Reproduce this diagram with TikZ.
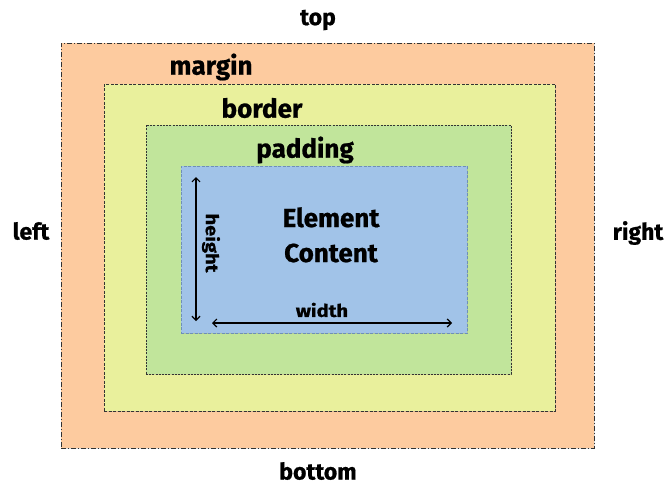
\documentclass[tikz,border=0pt]{standalone}
\usepackage{fontspec}
\setmainfont{Fira Sans}
\newfontfamily\heavy{Fira Sans}[BoldFeatures={FakeBold=0.8}]
\usetikzlibrary{arrows.meta,shadows}
\definecolor{marginc}{HTML}{FDCB9F}
\definecolor{borderc}{HTML}{E9F09C}
\definecolor{paddingc}{HTML}{C1E59B}
\definecolor{contentc}{HTML}{A1C3E8}
\definecolor{edgec}{HTML}{333333}
\definecolor{contentedge}{HTML}{6E8FB8}
\tikzset{
  box/.style={anchor=north west, inner sep=0pt, outer sep=0pt,
    drop shadow={opacity=0.25, shadow xshift=1.2pt, shadow yshift=-1.2pt}},
  outerlbl/.style={font=\heavy\bfseries\fontsize{23}{25}\selectfont, inner sep=0pt},
  innerlbl/.style={font=\heavy\bfseries\fontsize{26}{28}\selectfont, inner sep=0pt},
  elemlbl/.style={font=\heavy\bfseries\fontsize{26}{28}\selectfont, inner sep=0pt, anchor=base},
  small/.style={font=\heavy\bfseries\fontsize{17.5}{19}\selectfont, inner sep=0pt},
  dimarrow/.style={{Straight Barb[length=4pt,width=8pt]}-{Straight Barb[length=4pt,width=8pt]}, line width=1.2pt, black}
}
\begin{document}
\begin{tikzpicture}[x=1pt,y=-1pt]
\useasboundingbox (0,0) rectangle (669,490);
\node[box, fill=marginc, draw=edgec, line width=0.9pt, dash pattern=on 5pt off 2pt on 1pt off 2pt,
  minimum width=533pt, minimum height=405pt] (margin) at (61,43) {};
\node[box, fill=borderc, draw=edgec, line width=0.9pt, dash pattern=on 3pt off 1.5pt,
  minimum width=451pt, minimum height=327pt] (border) at (104,84) {};
\node[box, fill=paddingc, draw=edgec, line width=0.7pt, dash pattern=on 2pt off 1.2pt,
  minimum width=365pt, minimum height=249pt] (padding) at (146,125) {};
\node[box, fill=contentc, draw=contentedge, line width=0.8pt, dash pattern=on 3pt off 1.5pt,
  minimum width=286pt, minimum height=167pt] (content) at (181,166) {};

\node[outerlbl] (top) at (318,20) {top};
\node[outerlbl] (bottom) at (318,471) {bottom};
\node[outerlbl] (left) at (31,231) {left};
\node[outerlbl] (right) at (638,233) {right};
\node[innerlbl] (marginl) at (211,67) {margin};
\node[innerlbl] (borderl) at (262,108) {border};
\node[innerlbl] (paddingl) at (305,150) {padding};
\node[elemlbl] (elem1) at (331,227) {Element};
\node[elemlbl] (elem2) at (331,262) {Content};
\node[small, rotate=-90] (heightl) at (211,243) {\scalebox{1.15}[1]{height}};
\node[small] (widthl) at (322,310) {\scalebox{1.15}[1]{width}};

\coordinate (htop) at (196,177);
\coordinate (hbot) at (196,321);
\coordinate (wl) at (212,323);
\coordinate (wr) at (452,323);
\draw[dimarrow] (htop) -- (hbot);
\draw[dimarrow] (wl) -- (wr);
\end{tikzpicture}
\end{document}
